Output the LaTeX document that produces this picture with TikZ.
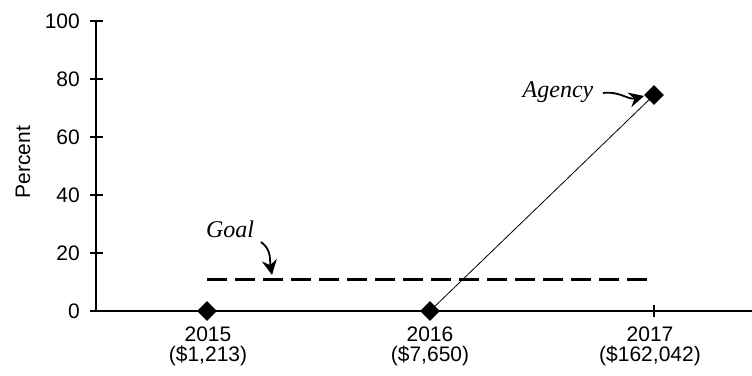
\documentclass[tikz,border=0pt]{standalone}
\usepackage{fontspec}
\setmainfont{Liberation Sans}
\newfontfamily\lblfont{Liberation Serif}
\usetikzlibrary{shapes.geometric,arrows.meta}
\begin{document}
\begin{tikzpicture}[x=1pt,y=-1pt,
  axis/.style={line width=2.8pt},
  ticklbl/.style={font=\fontsize{21}{20}\selectfont,inner sep=0pt},
  pt/.style={diamond,fill=black,draw=none,minimum size=20pt,inner sep=0pt},
  annot/.style={font=\lblfont\itshape\fontsize{24}{26}\selectfont,inner sep=0pt},
  pointer/.style={line width=1.8pt,-{Stealth[length=15pt,width=15pt,inset=5pt]}},
]
\useasboundingbox (0,0) rectangle (752,375);
% axes
\coordinate (o) at (96,311);
\coordinate (ytop) at (96,21);
\coordinate (xend) at (752,311);
\draw[axis] (ytop) -- (o) -- (xend);
\foreach \v/\y in {0/311,20/253,40/195,60/137,80/79,100/21}{
  \draw[axis] (90,\y) -- (103,\y);
  \node[ticklbl,anchor=east] (yl\v) at (80,\y) {\v};
}
\foreach \x in {208,430,654}{
  \draw[line width=1.8pt] (\x,305) -- (\x,317);
}
\node[ticklbl,rotate=90] (ylab) at (23,162) {Percent};
\node[ticklbl,align=center] (x2015) at (208,346) {2015\\(\$1,213)};
\node[ticklbl,align=center] (x2016) at (430,346) {2016\\(\$7,650)};
\node[ticklbl,align=center] (x2017) at (650,346) {2017\\(\$162,042)};
% goal
\coordinate (gs) at (207,279);
\coordinate (ge) at (648,279);
\draw[line width=3pt,dash pattern=on 20pt off 8pt] (gs) -- (ge);
% data
\node[pt] (d2015) at (207,311) {};
\node[pt] (d2016) at (430,311) {};
\node[pt] (d2017) at (654,95) {};
\draw[line width=0.8pt] (d2016.center) -- (d2017.center);
% annotations
\node[annot,anchor=base] (goal) at (230,237) {Goal};
\coordinate (gt) at (272,275);
\draw[pointer] (261,242) to[out=-35,in=100] (gt);
\node[annot,anchor=base] (agency) at (558,97) {Agency};
\coordinate (at) at (644,96);
\draw[pointer] (603,93) to[out=8,in=195] (at);
\end{tikzpicture}
\end{document}
